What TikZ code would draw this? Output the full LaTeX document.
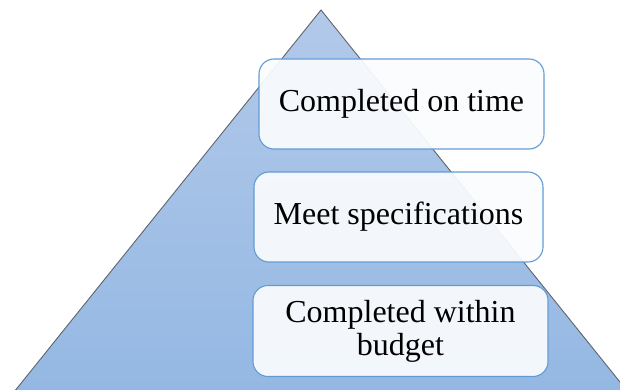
\documentclass[tikz,border=0pt]{standalone}
\usepackage{fontspec}
\setmainfont{Liberation Serif}
\usepackage{xcolor}
\usepackage{tikz}
\usetikzlibrary{positioning}

\definecolor{pyrtop}{RGB}{178,201,233}
\definecolor{pyrbot}{RGB}{148,184,227}
\definecolor{pyredge}{RGB}{96,100,106}
\definecolor{boxedge}{RGB}{98,155,213}
\definecolor{boxfill}{RGB}{250,252,254}

\begin{document}
\begin{tikzpicture}[
  x=1pt, y=-1pt,
  goal/.style={draw=boxedge, line width=1.1pt, fill=boxfill, fill opacity=0.93, text opacity=1,
    rounded corners=15pt, align=center, inner sep=0pt,
    font=\fontsize{32}{33}\selectfont}
]
\useasboundingbox (0,0) rectangle (620,390);
\clip (0,0) rectangle (620,390);

% pyramid
\coordinate (apex) at (321,10);
\coordinate (baseL) at (14,392);
\coordinate (baseR) at (628,392);
\shade[top color=pyrtop, bottom color=pyrbot, draw=pyredge, line width=0.9pt]
  (baseL) -- (apex) -- (baseR) -- cycle;

% goals
\node[goal, minimum width=285pt, minimum height=90pt] (time) at (401.5,104) {\raisebox{-2pt}{Completed on time}};
\node[goal, minimum width=289pt, minimum height=90pt] (spec) at (398.5,217) {\raisebox{-2pt}{Meet specifications}};
\node[goal, minimum width=295pt, minimum height=91pt] (budget) at (400.5,331) {Completed within\\budget};
\end{tikzpicture}
\end{document}
